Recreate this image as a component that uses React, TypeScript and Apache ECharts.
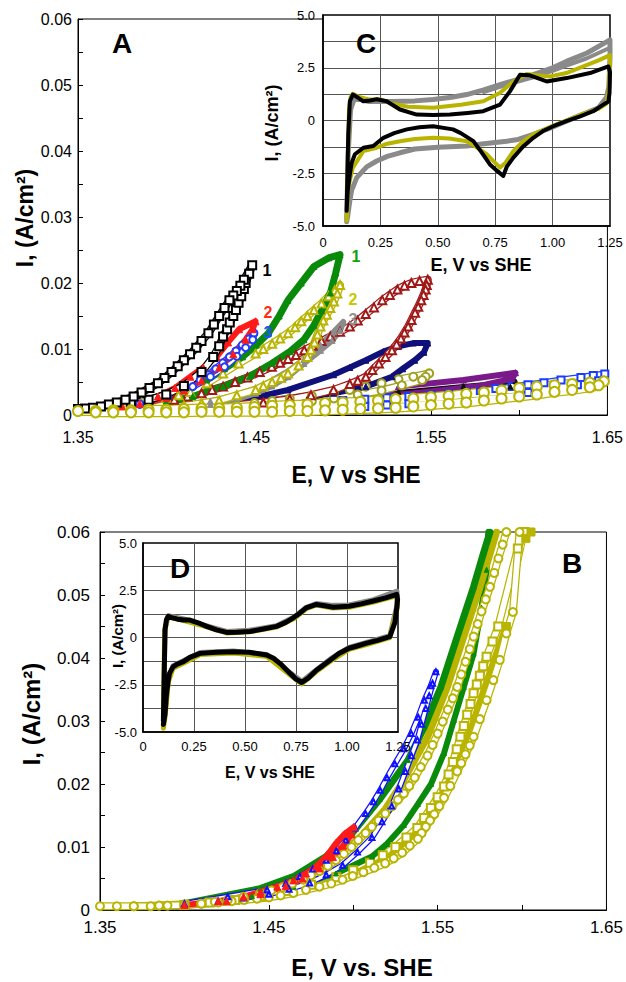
import React, { useEffect, useRef } from "react";
import * as echarts from "echarts";

type P = [number, number];

const FF = "'Liberation Sans', Arial, Helvetica, sans-serif";

// ---------- Panel A: E (V vs SHE) vs I (A/cm2) ----------
const aBlackSquares: P[] = [[1.350,0.0008],[1.360,0.0010],[1.370,0.0013],[1.380,0.0017],[1.390,0.0023],[1.400,0.0031],[1.410,0.0044],[1.420,0.0065],[1.4266,0.0088],[1.4300,0.0104],[1.4322,0.0119],[1.4345,0.0130],[1.4360,0.0140],[1.4380,0.0150],[1.4395,0.0159],[1.4410,0.0170],[1.4425,0.0180],[1.4440,0.0191],[1.4450,0.0200],[1.4470,0.0214],[1.4487,0.0227],[1.4440,0.0205],[1.4420,0.0196],[1.4400,0.0188],[1.4380,0.0181],[1.4358,0.0174],[1.4330,0.0162],[1.4300,0.0150],[1.4270,0.0137],[1.4239,0.0124],[1.4200,0.0112],[1.4170,0.0102],[1.4135,0.0092],[1.4100,0.0083],[1.4065,0.0074],[1.4030,0.0065],[1.3990,0.0056],[1.3953,0.0048],[1.3905,0.0041],[1.3860,0.0034],[1.3815,0.0028],[1.3769,0.0023],[1.3720,0.0019],[1.3675,0.0016],[1.3630,0.0013],[1.3585,0.0011],[1.3540,0.0010],[1.3500,0.0009]];
const aRed: P[] = [[1.375,0.0013],[1.3953,0.0028],[1.405,0.0041],[1.4137,0.0058],[1.4210,0.0072],[1.4285,0.0088],[1.4350,0.0110],[1.4413,0.0130],[1.4506,0.0142],[1.4490,0.0130],[1.4450,0.0114],[1.4380,0.0092],[1.4300,0.0072],[1.4200,0.0052],[1.4100,0.0037],[1.4000,0.0026],[1.3850,0.0017]];
const aBlueCircles: P[] = [[1.370,0.0010],[1.385,0.0016],[1.4008,0.0028],[1.4100,0.0040],[1.4192,0.0053],[1.4240,0.0061],[1.4280,0.0070],[1.4320,0.0079],[1.4358,0.0088],[1.4395,0.0097],[1.4430,0.0106],[1.4465,0.0115],[1.4497,0.0124],[1.4490,0.0114],[1.4450,0.0102],[1.4400,0.0089],[1.4330,0.0073],[1.4250,0.0058],[1.4150,0.0043],[1.4000,0.0027],[1.3850,0.0017]];
const aGreen: P[] = [[1.380,0.0014],[1.3953,0.0028],[1.410,0.0040],[1.4229,0.0053],[1.4330,0.0070],[1.4432,0.0088],[1.4510,0.0106],[1.4579,0.0124],[1.4640,0.0150],[1.4690,0.0174],[1.4765,0.0200],[1.4837,0.0225],[1.4920,0.0238],[1.4985,0.0243],[1.4960,0.0215],[1.4930,0.0185],[1.4880,0.0158],[1.4837,0.0136],[1.4780,0.0114],[1.4700,0.0096],[1.4598,0.0078],[1.4470,0.0058],[1.4322,0.0043],[1.4150,0.0028],[1.4000,0.0019]];
const aYellow: P[] = [[1.386,0.0018],[1.400,0.0026],[1.4070,0.0030],[1.4137,0.0035],[1.4230,0.0048],[1.4322,0.0063],[1.4410,0.0078],[1.4506,0.0093],[1.4550,0.0100],[1.4600,0.0108],[1.4645,0.0116],[1.4690,0.0124],[1.4730,0.0133],[1.4765,0.0142],[1.4800,0.0150],[1.4837,0.0159],[1.4880,0.0169],[1.4920,0.0180],[1.4955,0.0189],[1.4985,0.0197],[1.4970,0.0184],[1.4950,0.0172],[1.4930,0.0162],[1.4910,0.0152],[1.4890,0.0143],[1.4874,0.0134],[1.4857,0.0122],[1.4840,0.0110],[1.4820,0.0099],[1.4800,0.0088],[1.4750,0.0075],[1.4690,0.0063],[1.4650,0.0056],[1.4600,0.0050],[1.4550,0.0044],[1.4506,0.0038],[1.4400,0.0030],[1.4300,0.0022],[1.4200,0.0018],[1.4100,0.0014]];
const aGray: P[] = [[1.4100,0.0015],[1.4250,0.0021],[1.4400,0.0030],[1.4506,0.0040],[1.4600,0.0052],[1.4690,0.0066],[1.4780,0.0084],[1.4874,0.0106],[1.4950,0.0126],[1.5003,0.0141],[1.4985,0.0128],[1.4940,0.0113],[1.4874,0.0098],[1.4780,0.0078],[1.4690,0.0058],[1.4598,0.0044],[1.4506,0.0033],[1.4400,0.0024],[1.4250,0.0016],[1.4100,0.0012]];
const aDarkRed: P[] = [[1.4045,0.0023],[1.4120,0.0028],[1.4200,0.0033],[1.4260,0.0038],[1.4322,0.0043],[1.4390,0.0050],[1.4460,0.0057],[1.4530,0.0065],[1.4598,0.0073],[1.4645,0.0079],[1.4690,0.0085],[1.4735,0.0091],[1.4782,0.0098],[1.4830,0.0105],[1.4880,0.0112],[1.4930,0.0119],[1.4985,0.0126],[1.5040,0.0134],[1.5085,0.0143],[1.5130,0.0153],[1.5177,0.0163],[1.5224,0.0174],[1.5267,0.0182],[1.5310,0.0190],[1.5350,0.0196],[1.5389,0.0200],[1.5435,0.0203],[1.5482,0.0205],[1.5476,0.0197],[1.5470,0.0190],[1.5458,0.0182],[1.5445,0.0174],[1.5428,0.0164],[1.5410,0.0155],[1.5390,0.0144],[1.5371,0.0134],[1.5350,0.0125],[1.5330,0.0116],[1.5305,0.0107],[1.5279,0.0098],[1.5242,0.0088],[1.5205,0.0078],[1.5168,0.0068],[1.5131,0.0058],[1.5085,0.0052],[1.5040,0.0047],[1.4948,0.0038],[1.4820,0.0030],[1.4700,0.0024],[1.4550,0.0019],[1.4400,0.0015]];
const aNavy: P[] = [[1.4400,0.0020],[1.4690,0.0038],[1.4948,0.0061],[1.5040,0.0072],[1.5131,0.0083],[1.5230,0.0096],[1.5316,0.0104],[1.5400,0.0109],[1.5482,0.0109],[1.5460,0.0095],[1.5408,0.0083],[1.5340,0.0070],[1.5279,0.0058],[1.5131,0.0043],[1.4948,0.0033],[1.4700,0.0022],[1.4400,0.0014]];
const aOlive: P[] = [[1.4500,0.0018],[1.4600,0.0021],[1.4700,0.0025],[1.4825,0.0029],[1.4950,0.0033],[1.5040,0.0038],[1.5130,0.0043],[1.5220,0.0048],[1.5316,0.0054],[1.5400,0.0058],[1.5490,0.0063],[1.5470,0.0058],[1.5450,0.0053],[1.5335,0.0045],[1.5220,0.0037],[1.5085,0.0031],[1.4950,0.0025],[1.4825,0.0021],[1.4700,0.0017]];
const aPurple: P[] = [[1.4500,0.0020],[1.4948,0.0033],[1.5316,0.0043],[1.5684,0.0053],[1.5979,0.0064],[1.5960,0.0055],[1.5776,0.0044],[1.5408,0.0033],[1.5000,0.0024],[1.4600,0.0016]];
const aBlackFilled: P[] = [[1.4800,0.0025],[1.5316,0.0035],[1.5684,0.0044],[1.5979,0.0051],[1.5950,0.0043],[1.5700,0.0037],[1.5300,0.0029],[1.4900,0.0020]];
const aBlueSquares: P[] = [[1.5000,0.0022],[1.5125,0.0024],[1.5250,0.0026],[1.5375,0.0028],[1.5500,0.0030],[1.5600,0.0032],[1.5700,0.0035],[1.5780,0.0037],[1.5868,0.0040],[1.5960,0.0043],[1.6050,0.0046],[1.6140,0.0049],[1.6237,0.0053],[1.6350,0.0057],[1.6420,0.0060],[1.6485,0.0062],[1.6450,0.0052],[1.6330,0.0046],[1.6200,0.0040],[1.6050,0.0034],[1.5900,0.0028],[1.5800,0.0025],[1.5700,0.0023],[1.5600,0.0021],[1.5500,0.0019],[1.5375,0.0017],[1.5250,0.0015],[1.5125,0.0013],[1.5000,0.0012]];
const aGreen2: P[] = [[1.5000,0.0019],[1.5500,0.0026],[1.5900,0.0036],[1.6250,0.0047],[1.6485,0.0056],[1.6450,0.0046],[1.6200,0.0035],[1.5800,0.0024],[1.5400,0.0016]];
const aYellowCircles: P[] = [[1.350,0.0006],[1.360,0.0006],[1.370,0.0007],[1.380,0.0007],[1.390,0.0008],[1.400,0.0008],[1.410,0.0009],[1.420,0.0010],[1.430,0.0010],[1.440,0.0011],[1.450,0.0012],[1.460,0.0014],[1.470,0.0015],[1.480,0.0016],[1.490,0.0018],[1.500,0.0019],[1.510,0.0020],[1.520,0.0022],[1.530,0.0024],[1.540,0.0025],[1.550,0.0027],[1.560,0.0029],[1.570,0.0032],[1.580,0.0034],[1.590,0.0037],[1.600,0.0041],[1.610,0.0043],[1.620,0.0045],[1.630,0.0047],[1.640,0.0049],[1.648,0.0051],[1.645,0.0045],[1.640,0.0042],[1.630,0.0038],[1.620,0.0035],[1.610,0.0031],[1.600,0.0028],[1.590,0.0025],[1.580,0.0022],[1.570,0.0019],[1.560,0.0017],[1.550,0.0015],[1.540,0.0013],[1.530,0.0011],[1.520,0.0010],[1.510,0.0009],[1.500,0.0008],[1.490,0.0007],[1.480,0.0006],[1.470,0.0006],[1.460,0.0005],[1.450,0.0005],[1.440,0.0005],[1.430,0.0005],[1.420,0.0005],[1.410,0.0004],[1.400,0.0004],[1.390,0.0004],[1.380,0.0004],[1.370,0.0004],[1.360,0.0004]];

// ---------- Panel C inset (E 0..1.25) ----------
const cGray: P[] = [[0.103,-4.7],[0.110,-1.5],[0.120,0.5],[0.135,1.0],[0.160,1.0],[0.200,0.9],[0.300,0.9],[0.400,0.93],[0.480,1.0],[0.560,1.1],[0.626,1.23],[0.700,1.45],[0.771,1.7],[0.850,1.95],[0.916,2.17],[1.000,2.5],[1.060,2.8],[1.150,3.2],[1.250,3.82],[1.250,3.0],[1.245,1.6],[1.235,1.1],[1.200,0.6],[1.120,0.25],[1.060,-0.03],[0.980,-0.4],[0.916,-0.66],[0.850,-0.9],[0.800,-0.98],[0.700,-1.1],[0.626,-1.21],[0.500,-1.27],[0.400,-1.35],[0.335,-1.53],[0.280,-1.7],[0.234,-1.92],[0.190,-2.2],[0.147,-2.71],[0.125,-3.3],[0.117,-3.8],[0.108,-4.5],[0.103,-4.8]];
const cGray2: P[] = [[0.700,1.35],[0.771,1.6],[0.850,1.85],[0.916,2.05],[1.000,2.35],[1.060,2.6],[1.150,2.95],[1.250,3.45]];
const cYellow: P[] = [[0.103,-4.75],[0.108,-2.0],[0.113,0.5],[0.120,1.1],[0.130,1.27],[0.160,1.1],[0.200,1.0],[0.250,1.0],[0.300,0.8],[0.370,0.65],[0.480,0.6],[0.600,0.75],[0.698,0.91],[0.770,1.3],[0.829,1.85],[0.887,2.2],[0.930,2.15],[0.989,2.09],[1.060,2.25],[1.134,2.56],[1.200,2.85],[1.250,3.1],[1.250,2.8],[1.245,1.4],[1.235,0.8],[1.200,0.55],[1.130,0.3],[1.060,0.0],[1.000,-0.25],[0.916,-0.66],[0.870,-1.0],[0.829,-1.45],[0.795,-2.0],[0.771,-2.23],[0.740,-1.9],[0.713,-1.6],[0.660,-1.2],[0.626,-0.98],[0.550,-0.85],[0.480,-0.82],[0.400,-0.88],[0.335,-0.98],[0.280,-1.1],[0.234,-1.29],[0.176,-1.45],[0.130,-2.23],[0.110,-3.18],[0.103,-4.75]];
const cBlack: P[] = [[0.103,-4.28],[0.110,-0.66],[0.117,0.91],[0.130,1.23],[0.150,1.10],[0.176,0.91],[0.205,0.95],[0.234,1.01],[0.277,0.91],[0.335,0.52],[0.408,0.28],[0.480,0.26],[0.553,0.28],[0.630,0.36],[0.698,0.44],[0.771,0.75],[0.814,1.38],[0.858,2.17],[0.901,2.14],[0.974,1.85],[1.061,2.01],[1.163,2.25],[1.243,2.56],[1.250,2.3],[1.248,1.3],[1.243,0.9],[1.221,0.75],[1.177,0.44],[1.120,0.2],[1.060,-0.03],[1.003,-0.27],[0.958,-0.5],[0.916,-0.82],[0.870,-1.25],[0.829,-1.76],[0.800,-2.2],[0.785,-2.63],[0.760,-2.4],[0.727,-2.08],[0.690,-1.5],[0.655,-0.98],[0.600,-0.6],[0.566,-0.42],[0.480,-0.27],[0.420,-0.32],[0.365,-0.42],[0.310,-0.6],[0.263,-0.82],[0.219,-1.21],[0.176,-1.29],[0.139,-1.6],[0.125,-2.0],[0.117,-2.55],[0.108,-3.3],[0.103,-4.28]];

// ---------- Panel B ----------
const bRed: P[] = [[1.400,0.0008],[1.420,0.0014],[1.435,0.0021],[1.445,0.0029],[1.455,0.0037],[1.4646,0.0047],[1.4720,0.0058],[1.4780,0.0069],[1.4840,0.0085],[1.4898,0.0106],[1.4950,0.0121],[1.5004,0.0132],[1.4990,0.0120],[1.4940,0.0102],[1.4880,0.0084],[1.4800,0.0066],[1.4700,0.0050],[1.4600,0.0038],[1.4450,0.0025],[1.4250,0.0014]];
const bBlue: P[] = [[1.400,0.0010],[1.4257,0.0021],[1.4490,0.0032],[1.4600,0.0042],[1.4684,0.0053],[1.4760,0.0065],[1.4840,0.0079],[1.4900,0.0094],[1.4956,0.0111],[1.5010,0.0130],[1.5073,0.0153],[1.5120,0.0172],[1.5160,0.0190],[1.5200,0.0210],[1.5247,0.0232],[1.5300,0.0256],[1.5344,0.0280],[1.5385,0.0306],[1.5422,0.0333],[1.5460,0.0356],[1.5490,0.0378],[1.5470,0.0360],[1.5450,0.0340],[1.5430,0.0320],[1.5405,0.0295],[1.5380,0.0270],[1.5345,0.0245],[1.5310,0.0220],[1.5270,0.0192],[1.5228,0.0165],[1.5170,0.0140],[1.5111,0.0115],[1.5025,0.0092],[1.4937,0.0071],[1.4840,0.0056],[1.4742,0.0043],[1.4620,0.0033],[1.4500,0.0025],[1.4350,0.0019],[1.4200,0.0014]];
const bGreenUp: P[] = [[1.400,0.0010],[1.4450,0.0034],[1.4646,0.0053],[1.4840,0.0085],[1.4994,0.0122],[1.5160,0.0177],[1.5325,0.0238],[1.5422,0.0291],[1.5519,0.0354],[1.5616,0.0434],[1.5713,0.0513],[1.5771,0.0566],[1.5810,0.0600]];
const bGreenDown: P[] = [[1.5800,0.0600],[1.5790,0.0540],[1.5760,0.0480],[1.5713,0.0407],[1.5655,0.0354],[1.5597,0.0302],[1.5538,0.0249],[1.5461,0.0200],[1.5383,0.0168],[1.5300,0.0135],[1.5200,0.0105],[1.5111,0.0085],[1.4898,0.0058],[1.4646,0.0037],[1.4400,0.0022],[1.4100,0.0012]];
const bYellowBandUp: P[] = [[1.400,0.0008],[1.430,0.0020],[1.450,0.0032],[1.470,0.0052],[1.490,0.0082],[1.505,0.0118],[1.5189,0.0160],[1.5286,0.0200],[1.5441,0.0275],[1.5558,0.0354],[1.5655,0.0434],[1.5752,0.0513],[1.5849,0.0600]];
const bYellowBandDown: P[] = [[1.5907,0.0450],[1.5840,0.0400],[1.5781,0.0354],[1.5720,0.0305],[1.5655,0.0255],[1.5580,0.0210],[1.5500,0.0170],[1.5383,0.0124],[1.5200,0.0082],[1.4950,0.0050],[1.4650,0.0029],[1.4350,0.0017],[1.4000,0.0009]];
const bYellowFilledTop: P[] = [[1.6053,0.0600],[1.6023,0.0590],[1.5907,0.0450]];
const bYellowCirclesUp: P[] = [[1.350,0.0006],[1.360,0.0006],[1.370,0.0006],[1.380,0.0006],[1.390,0.0007],[1.400,0.0008],[1.410,0.0010],[1.4180,0.0013],[1.4257,0.0016],[1.4350,0.0021],[1.4450,0.0027],[1.4515,0.0031],[1.4580,0.0036],[1.4640,0.0042],[1.4704,0.0048],[1.4750,0.0055],[1.4800,0.0062],[1.4850,0.0070],[1.4898,0.0079],[1.4945,0.0089],[1.4990,0.0100],[1.5030,0.0111],[1.5073,0.0122],[1.5110,0.0132],[1.5150,0.0142],[1.5190,0.0153],[1.5230,0.0165],[1.5265,0.0175],[1.5300,0.0185],[1.5332,0.0197],[1.5364,0.0210],[1.5400,0.0227],[1.5440,0.0245],[1.5470,0.0262],[1.5500,0.0280],[1.5530,0.0299],[1.5560,0.0318],[1.5590,0.0336],[1.5616,0.0354],[1.5640,0.0374],[1.5665,0.0394],[1.5690,0.0414],[1.5713,0.0434],[1.5737,0.0454],[1.5760,0.0474],[1.5785,0.0493],[1.5810,0.0513],[1.5835,0.0535],[1.5860,0.0558],[1.5885,0.0580],[1.5907,0.0600]];
const bYellowCirclesDown: P[] = [[1.5985,0.0600],[1.5946,0.0473],[1.5907,0.0439],[1.5868,0.0397],[1.5830,0.0365],[1.5790,0.0333],[1.5750,0.0303],[1.5713,0.0275],[1.5690,0.0261],[1.5665,0.0247],[1.5640,0.0233],[1.5616,0.0220],[1.5575,0.0197],[1.5538,0.0178],[1.5510,0.0165],[1.5480,0.0152],[1.5455,0.0142],[1.5430,0.0132],[1.5405,0.0122],[1.5383,0.0113],[1.5335,0.0102],[1.5290,0.0091],[1.5240,0.0082],[1.5189,0.0074],[1.5125,0.0067],[1.5060,0.0060],[1.4997,0.0054],[1.4937,0.0048],[1.4870,0.0042],[1.4800,0.0037],[1.4720,0.0032],[1.4646,0.0027],[1.4570,0.0023],[1.4500,0.0020],[1.4430,0.0018],[1.4354,0.0016],[1.4280,0.0014],[1.4200,0.0012],[1.4100,0.0010],[1.4000,0.0009],[1.3850,0.0007],[1.3700,0.0006]];
const bYellowSquares: P[] = [[1.4000,0.0008],[1.4150,0.0012],[1.4300,0.0016],[1.4450,0.0022],[1.4600,0.0030],[1.4750,0.0040],[1.4900,0.0052],[1.5000,0.0063],[1.5100,0.0075],[1.5175,0.0087],[1.5250,0.0100],[1.5315,0.0115],[1.5380,0.0130],[1.5420,0.0146],[1.5460,0.0162],[1.5500,0.0179],[1.5538,0.0196],[1.5565,0.0215],[1.5590,0.0235],[1.5613,0.0255],[1.5635,0.0275],[1.5655,0.0292],[1.5675,0.0310],[1.5695,0.0327],[1.5713,0.0344],[1.5732,0.0358],[1.5750,0.0372],[1.5770,0.0387],[1.5790,0.0402],[1.5825,0.0426],[1.5859,0.0450],[1.5975,0.0574],[1.6014,0.0600]];

// ---------- Panel D inset ----------
const dGray: P[] = [[0.100,-4.2],[0.108,0.5],[0.124,1.15],[0.200,0.98],[0.300,0.65],[0.410,0.32],[0.520,0.38],[0.655,0.62],[0.740,1.08],[0.800,1.6],[0.850,1.8],[0.930,1.7],[1.010,1.72],[1.130,2.0],[1.245,2.45],[1.245,1.7],[1.210,0.1],[1.100,-0.25],[1.010,-0.52],[0.917,-1.15],[0.850,-1.7],[0.778,-2.32],[0.720,-1.85],[0.606,-0.9],[0.443,-0.72],[0.280,-0.8],[0.200,-1.22],[0.147,-1.5],[0.124,-2.2],[0.108,-4.0],[0.100,-4.4]];
const dYellow: P[] = [[0.100,-4.7],[0.106,0.3],[0.122,1.1],[0.200,0.9],[0.300,0.6],[0.410,0.24],[0.520,0.3],[0.655,0.56],[0.740,1.0],[0.800,1.52],[0.850,1.72],[0.930,1.56],[1.010,1.6],[1.130,1.88],[1.245,2.22],[1.247,1.6],[1.210,0.0],[1.100,-0.36],[1.010,-0.63],[0.917,-1.27],[0.850,-1.8],[0.778,-2.45],[0.720,-1.97],[0.606,-1.0],[0.443,-0.82],[0.280,-0.9],[0.200,-1.35],[0.147,-1.62],[0.124,-2.35],[0.108,-4.2],[0.100,-4.8]];
const dBlack: P[] = [[0.100,-4.4],[0.104,-2.0],[0.108,0.4],[0.115,0.95],[0.124,1.12],[0.140,1.05],[0.170,0.97],[0.200,0.93],[0.230,0.92],[0.270,0.78],[0.312,0.59],[0.360,0.4],[0.410,0.27],[0.460,0.28],[0.524,0.32],[0.590,0.45],[0.655,0.59],[0.700,0.8],[0.737,1.04],[0.770,1.3],[0.800,1.57],[0.850,1.75],[0.890,1.68],[0.933,1.6],[1.010,1.65],[1.070,1.78],[1.129,1.93],[1.190,2.1],[1.244,2.28],[1.248,2.0],[1.245,1.66],[1.235,0.8],[1.210,0.05],[1.150,-0.15],[1.097,-0.3],[1.050,-0.45],[1.010,-0.57],[0.960,-0.85],[0.917,-1.2],[0.880,-1.5],[0.850,-1.73],[0.810,-2.15],[0.778,-2.38],[0.750,-2.2],[0.721,-1.9],[0.680,-1.45],[0.640,-1.1],[0.606,-0.93],[0.520,-0.78],[0.443,-0.75],[0.360,-0.78],[0.280,-0.84],[0.230,-1.05],[0.198,-1.28],[0.170,-1.4],[0.147,-1.55],[0.130,-1.9],[0.124,-2.26],[0.115,-3.0],[0.108,-4.05],[0.100,-4.6]];

// ---------- tick label lists ----------
const mainXTicks = ["1.35", "1.45", "1.55", "1.65"];
const mainYTicks = ["0", "0.01", "0.02", "0.03", "0.04", "0.05", "0.06"];
const insetXTicks = ["0", "0.25", "0.50", "0.75", "1.00", "1.25"];
const insetYTicks = ["-5.0", "-2.5", "0", "2.5", "5.0"];

const fmtMainX = (v: number) => {
  const k = Math.round((v - 1.35) / 0.05);
  return k % 2 === 0 ? mainXTicks[k / 2] ?? "" : "";
};
const fmtMainY = (v: number) => {
  const k = Math.round(v / 0.005);
  return k % 2 === 0 ? mainYTicks[k / 2] ?? "" : "";
};
const fmtInsetX = (v: number) => insetXTicks[Math.round(v / 0.25)] ?? "";
const fmtInsetY = (v: number) => {
  const k = Math.round(v / 1.25) + 4;
  return k % 2 === 0 ? insetYTicks[k / 2] ?? "" : "";
};

function ser(data: P[], idx: number, color: string, width: number, symbol = "none", size = 0, z = 2) {
  return {
    type: "line",
    xAxisIndex: idx,
    yAxisIndex: idx,
    data,
    symbol,
    symbolSize: size,
    showSymbol: symbol !== "none",
    lineStyle: { color, width, cap: "round", join: "round" },
    itemStyle: { color, borderColor: color, borderWidth: 1 },
    z,
    clip: true,
    silent: true,
    animation: false,
  };
}

// open-marker band: coloured outer stroke, white core, hollow markers
function hollow(data: P[], idx: number, color: string, width: number, symbol: string, size: number) {
  return [
    ser(data, idx, color, width),
    { ...ser(data, idx, color, 1, symbol, size), lineStyle: { color: "#fff", width: Math.max(width - 2.5, 1), cap: "round", join: "round" } },
  ];
}

function mainAxes(idx: number, fs: number, xMargin: number, yMargin: number) {
  const common = {
    gridIndex: idx,
    type: "value",
    axisLine: { show: true, onZero: false, lineStyle: { color: "#000", width: 1 } },
    axisTick: { show: true, inside: true, length: 5, lineStyle: { color: "#000", width: 1 } },
    splitLine: { show: false },
  };
  return {
    x: { ...common, min: 1.35, max: 1.65, interval: 0.05,
      axisLabel: { margin: xMargin, fontSize: fs, color: "#000", fontFamily: FF, formatter: fmtMainX, showMinLabel: true, showMaxLabel: true } },
    y: { ...common, min: 0, max: 0.06, interval: 0.005,
      axisLabel: { margin: yMargin, fontSize: fs, color: "#000", fontFamily: FF, formatter: fmtMainY, showMinLabel: true, showMaxLabel: true } },
  };
}

function insetAxes(idx: number, fs: number, xMargin: number, yMargin: number) {
  const common = {
    gridIndex: idx,
    type: "value",
    z: 6,
    axisLine: { show: true, onZero: false, lineStyle: { color: "#000", width: 1.5 } },
    axisTick: { show: false },
    splitLine: { show: true, showMinLine: false, showMaxLine: false, lineStyle: { color: "#555", width: 1 } },
  };
  return {
    x: { ...common, min: 0, max: 1.25, interval: 0.25,
      axisLabel: { margin: xMargin, fontSize: fs, color: "#000", fontFamily: FF, formatter: fmtInsetX, showMinLabel: true, showMaxLabel: true } },
    y: { ...common, min: -5, max: 5, interval: 1.25,
      axisLabel: { margin: yMargin, fontSize: fs, color: "#000", fontFamily: FF, formatter: fmtInsetY, showMinLabel: true, showMaxLabel: true } },
  };
}

function txt(text: string, x: number, y: number, size: number, color = "#000", rot = 0) {
  return {
    type: "text",
    x,
    y,
    rotation: rot,
    z: 100,
    silent: true,
    style: {
      text,
      font: `bold ${size}px ${FF}`,
      fill: color,
      align: "center",
      verticalAlign: "middle",
      textAlign: "center",
      textVerticalAlign: "middle",
    },
  };
}

const YEL = "#b8b400";

function buildOption() {
  const A = mainAxes(0, 16, 14, 6);
  const C = insetAxes(1, 13, 10, 8);
  const B = mainAxes(2, 17, 9, 10);
  const D = insetAxes(3, 13, 8, 6);
  const R = Math.PI / 2;
  return {
    animation: false,
    backgroundColor: "#fff",
    grid: [
      { left: 78, top: 19, width: 541, height: 396, show: true, borderColor: "#000", borderWidth: 1, backgroundColor: "transparent", z: 0 },
      { left: 323, top: 15, width: 287, height: 211, show: true, borderColor: "#000", borderWidth: 1.5, backgroundColor: "#fff", z: 5 },
      { left: 100, top: 532, width: 515, height: 378, show: true, borderColor: "#000", borderWidth: 1, backgroundColor: "transparent", z: 0 },
      { left: 143, top: 543, width: 255, height: 189, show: true, borderColor: "#000", borderWidth: 1.5, backgroundColor: "#fff", z: 5 },
    ],
    xAxis: [A.x, C.x, B.x, D.x],
    yAxis: [A.y, C.y, B.y, D.y],
    series: [
      // Panel A
      ser(aGreen2, 0, "#1a8a1a", 5),
      ...hollow(aBlueSquares, 0, "#1a3cff", 7, "emptyRect", 7),
      ser(aBlackFilled, 0, "#111", 4, "triangle", 5),
      ser(aPurple, 0, "#7a1a8a", 6, "triangle", 6),
      ...hollow(aOlive, 0, "#a0a020", 8, "emptyCircle", 8),
      ser(aNavy, 0, "#10107a", 6, "triangle", 6),
      ...hollow(aDarkRed, 0, "#a01818", 8, "emptyTriangle", 8),
      ser(aGray, 0, "#8c8c8c", 6, "triangle", 6),
      ...hollow(aYellow, 0, YEL, 8, "emptyTriangle", 8),
      ser(aGreen, 0, "#0a8a0a", 7, "triangle", 6),
      ...hollow(aBlueCircles, 0, "#1f3cff", 7, "emptyCircle", 7),
      ser(aRed, 0, "#ff1a1a", 6, "triangle", 7),
      ...hollow(aBlackSquares, 0, "#000", 8, "emptyRect", 8),
      ...hollow(aYellowCircles, 0, YEL, 10, "emptyCircle", 10),
      // Panel C
      ser(cGray, 1, "#8a8a8a", 5, "none", 0, 7),
      ser(cGray2, 1, "#8a8a8a", 4, "none", 0, 7),
      ser(cYellow, 1, YEL, 4, "none", 0, 7),
      ser(cBlack, 1, "#000", 4, "none", 0, 7),
      // Panel B
      ...hollow(bYellowSquares, 2, YEL, 8, "emptyRect", 8),
      ser(bYellowBandDown, 2, YEL, 7),
      ser(bYellowFilledTop, 2, YEL, 1, "rect", 8),
      ...hollow(bYellowCirclesDown, 2, YEL, 8, "emptyCircle", 8),
      ser(bGreenDown, 2, "#0a8a0a", 6, "triangle", 5),
      ser(bYellowBandUp, 2, YEL, 7),
      ...hollow(bYellowCirclesUp, 2, YEL, 8, "emptyCircle", 8),
      ser(bGreenUp, 2, "#0a8a0a", 7, "triangle", 5),
      ...hollow(bBlue, 2, "#1010ff", 6, "emptyTriangle", 5),
      ser(bRed, 2, "#ff1a1a", 6, "triangle", 7),
      // Panel D
      ser(dGray, 3, "#8a8a8a", 5, "none", 0, 7),
      ser(dYellow, 3, YEL, 5, "none", 0, 7),
      ser(dBlack, 3, "#000", 5, "none", 0, 7),
    ],
    graphic: [
      txt("A", 122, 43, 28),
      txt("C", 366, 43, 28),
      txt("B", 572, 563, 28),
      txt("D", 180, 568, 28),
      txt("I, (A/cm²)", 25, 218, 23, "#000", R),
      txt("E, V vs SHE", 356, 475, 23),
      txt("I, (A/cm²)", 272, 123, 18, "#000", R),
      txt("E, V vs SHE", 481, 265, 18),
      txt("I, (A/cm²)", 31, 714, 24, "#000", R),
      txt("E, V vs. SHE", 362, 967, 24),
      txt("I, (A/cm²)", 117, 636, 15, "#000", R),
      txt("E, V vs SHE", 270, 772, 16),
      txt("1", 267, 270, 16, "#000"),
      txt("2", 268, 312, 16, "#ff3010"),
      txt("3", 268, 332, 16, "#2050ff"),
      txt("1", 356, 256, 16, "#10a010"),
      txt("2", 353, 299, 16, "#c8c800"),
      txt("3", 353, 319, 16, "#909090"),
    ],
  };
}

export default function App() {
  const ref = useRef<HTMLDivElement>(null);
  useEffect(() => {
    if (!ref.current) return;
    const chart = echarts.init(ref.current, null, { renderer: "svg" });
    chart.setOption(buildOption() as any);
    return () => chart.dispose();
  }, []);
  return (
    <div
      ref={ref}
      style={{ position: "fixed", left: 0, top: 0, width: 626, height: 982, background: "#fff" }}
    />
  );
}
